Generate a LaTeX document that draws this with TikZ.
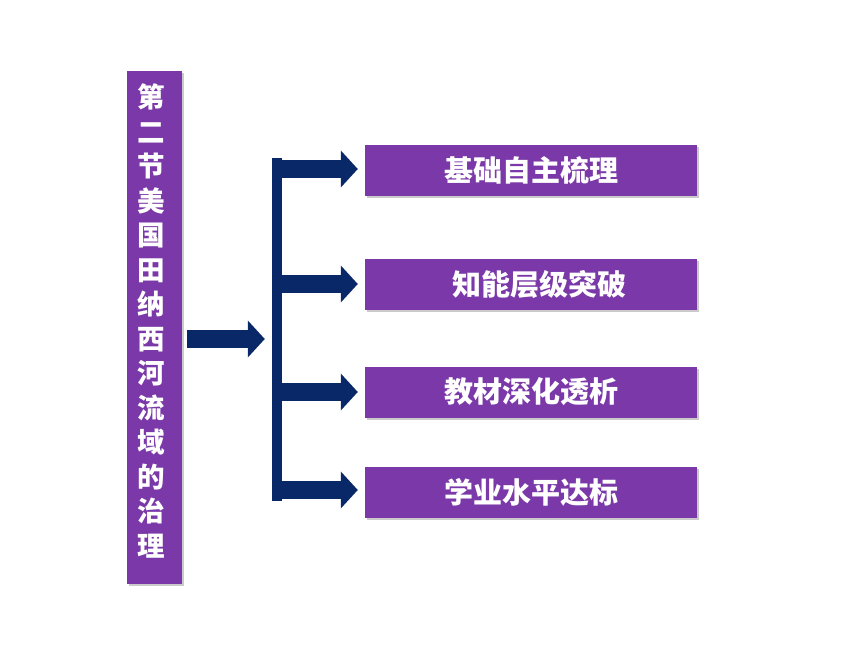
\documentclass[tikz,border=0pt]{standalone}
\usepackage{fontspec}
\newfontfamily\cjk{Noto Sans CJK SC}
\usetikzlibrary{arrows.meta,shadows,calc}
\definecolor{boxpurple}{RGB}{122,56,168}
\definecolor{navy}{RGB}{8,40,104}
\tikzset{
  pbox/.style={rectangle, fill=boxpurple, inner sep=0pt, text=white,
    drop shadow={shadow xshift=1.5pt, shadow yshift=-2pt, fill=black!60, opacity=0.35}},
  itembox/.style={pbox, minimum width=332pt, minimum height=51pt,
    font=\cjk\bfseries\fontsize{29}{31}\selectfont},
  blockarrow/.style={navy, line width=18pt,
    -{Triangle[length=17pt,width=36pt]}},
}
\begin{document}
\begin{tikzpicture}[x=1pt,y=-1pt]
\useasboundingbox (0,0) rectangle (860,645);
% left title box
\node[pbox, minimum width=55pt, minimum height=513pt] (title) at (154.5,327.5) {};
\node[text=white, align=center, inner sep=0pt,
  font=\cjk\bfseries\fontsize{27.5}{34.5}\selectfont] (titletext) at (151.5,321)
  {第\\二\\节\\美\\国\\田\\纳\\西\\河\\流\\域\\的\\治\\理};
% vertical bar
\node[rectangle, fill=navy, minimum width=10pt, minimum height=343pt, inner sep=0pt] (bar) at (277,329.5) {};
% item boxes
\node[itembox] (b1) at (531,170) {基础自主梳理};
\node[itembox] (b2) at (531,284.5) {\hspace{16pt}知能层级突破};
\node[itembox] (b3) at (531,392) {教材深化透析};
\node[itembox] (b4) at (531,492.5) {学业水平达标};
% main arrow
\coordinate (ms) at ($(title.east)+(5,0)$);
\draw[blockarrow] (ms |- 0,339) -- ($(bar.west |- 0,339)+(-7,0)$);
% branch arrows
\foreach \b/\y in {b1/169,b2/284,b3/392,b4/490}{
  \draw[blockarrow] (bar.east |- 0,\y) -- ($(\b.west |- 0,\y)+(-7,0)$);
}
\end{tikzpicture}
\end{document}
